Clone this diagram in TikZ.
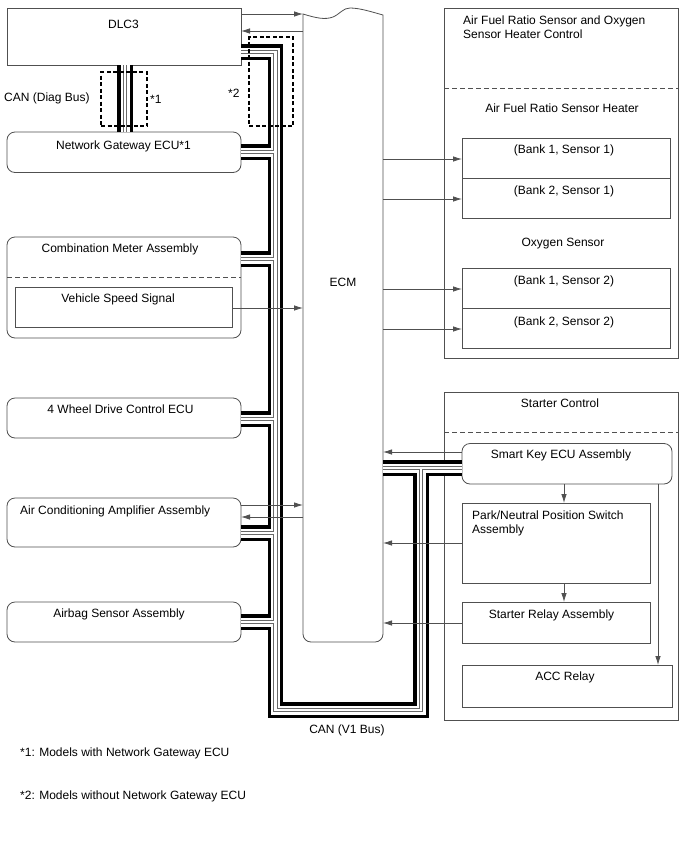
\documentclass[tikz,border=0pt]{standalone}
\usepackage{fontspec}
\setmainfont{Liberation Sans}
\usetikzlibrary{arrows.meta}
\definecolor{ln}{RGB}{80,80,80}
\definecolor{thinln}{RGB}{105,105,105}
\newcommand\bx[6]{\node[#1,anchor=north west,minimum width=#5pt,minimum height=#6pt] (#2) at (#3,#4) {};}
\begin{document}
\begin{tikzpicture}[x=1pt,y=-1pt,
  box/.style={draw=ln,line width=0.8pt,fill=white,inner sep=0pt,outer sep=0pt},
  rbox/.style={box,rounded corners=8pt},
  arr/.style={draw=ln,line width=0.8pt,-{Latex[length=9pt,width=5.5pt]}},
  dline/.style={draw=ln,line width=0.8pt,dash pattern=on 5pt off 3pt},
  ddash/.style={draw=black,line width=1.2pt,dash pattern=on 4pt off 2.5pt,inner sep=0pt,outer sep=0pt},
  txt/.style={inner sep=0pt,font=\fontsize{12}{13.7}\selectfont},
  buspath/.style={insert path={
    (dlc.east |- bA) -- (bA) -- (bB) -- (bC) -- (bD)
    (ecm.east |- bD) -- (sk.west |- bD)
    (ngw.east |- b1) -- (b1)
    (cma.east |- b2) -- (b2)
    (fwd.east |- b3) -- (b3)
    (aca.east |- b4) -- (b4)
    (abs.east |- b5) -- (b5)
    (dlc.south -| dA) -- (ngw.north -| dA)}}
  ]
\useasboundingbox (0,0) rectangle (688,852);
% containers
\bx{box}{afr}{444}{8}{234}{350}
\bx{box}{stc}{444}{392}{234}{328}
% left boxes
\bx{box}{dlc}{7}{8}{234}{57}
\bx{rbox}{ngw}{7}{132}{234}{40.5}
\bx{rbox}{cma}{7}{237}{234}{101}
\bx{box}{vss}{15}{287}{217}{40}
\bx{rbox}{fwd}{7}{398}{234}{40}
\bx{rbox}{aca}{7}{498}{234}{49}
\bx{rbox}{abs}{7}{602}{234}{40}
% ECM
\node[inner sep=0pt,outer sep=0pt,anchor=north west,minimum width=80pt,minimum height=628pt] (ecm) at (303,14) {};
\draw[ln,line width=0.8pt,fill=white] (303,14) .. controls (316,18) and (325,20) .. (333,17)
  .. controls (340,14) and (343,8) .. (350,8) .. controls (360,8) and (372,12) .. (383,15)
  -- (383,100) [rounded corners=8pt] -- (383,642) -- (303,642) -- (303,100) [sharp corners] -- cycle;
% right boxes
\bx{box}{bs11}{462}{138.5}{208}{40}
\bx{box}{bs21}{462}{178.5}{208}{40}
\bx{box}{bs12}{462}{268.5}{208}{40}
\bx{box}{bs22}{462}{308.5}{208}{40}
\bx{rbox}{sk}{462}{443.5}{210}{40.5}
\bx{box}{pn}{462}{503}{188}{80}
\bx{box}{sr}{462}{602}{188}{41}
\bx{box}{acc}{462}{665}{210}{42}
% dashed separators
\coordinate (y277) at (0,277);
\coordinate (y88) at (0,88);
\coordinate (y432) at (0,432);
\draw[dline] (cma.west |- y277) -- (cma.east |- y277);
\draw[dline] (afr.west |- y88) -- (afr.east |- y88);
\draw[dline] (stc.west |- y432) -- (stc.east |- y432);
% bus coordinates
\coordinate (bA) at (275.5,52);
\coordinate (bB) at (275.5,710);
\coordinate (bC) at (421,710);
\coordinate (bD) at (421,468);
\coordinate (b1) at (275.5,152);
\coordinate (b2) at (275.5,259);
\coordinate (b3) at (275.5,419);
\coordinate (b4) at (275.5,533);
\coordinate (b5) at (275.5,622);
\coordinate (dA) at (125,0);
\foreach \w/\bc in {15.5/black,9/white,4.4/thinln,2.4/white}{
  \draw[line width=\w pt,draw=\bc,line cap=butt,line join=miter,buspath];
}
% arrows
\coordinate (a1) at (0,14);
\coordinate (a2) at (0,31);
\coordinate (a3) at (0,308);
\coordinate (a4) at (0,505);
\coordinate (a5) at (0,517);
\coordinate (r1) at (0,159);
\coordinate (r2) at (0,199);
\coordinate (r3) at (0,289);
\coordinate (r4) at (0,329);
\coordinate (r5) at (0,452);
\coordinate (r6) at (0,543);
\coordinate (r7) at (0,623);
\coordinate (c1) at (564,0);
\coordinate (c2) at (658,0);
\draw[arr] (dlc.east |- a1) -- (ecm.west |- a1);
\draw[arr] (ecm.west |- a2) -- (dlc.east |- a2);
\draw[arr] (vss.east |- a3) -- (ecm.west |- a3);
\draw[arr] (aca.east |- a4) -- (ecm.west |- a4);
\draw[arr] (ecm.west |- a5) -- (aca.east |- a5);
\draw[arr] (ecm.east |- r1) -- (bs11.west |- r1);
\draw[arr] (ecm.east |- r2) -- (bs21.west |- r2);
\draw[arr] (ecm.east |- r3) -- (bs12.west |- r3);
\draw[arr] (ecm.east |- r4) -- (bs22.west |- r4);
\draw[arr] (sk.west |- r5) -- (ecm.east |- r5);
\draw[arr] (pn.west |- r6) -- (ecm.east |- r6);
\draw[arr] (sr.west |- r7) -- (ecm.east |- r7);
\draw[arr] (sk.south -| c1) -- (pn.north -| c1);
\draw[arr] (pn.south -| c1) -- (sr.north -| c1);
\draw[arr] (sk.south -| c2) -- (acc.north -| c2);
% dashed option frames
\node[ddash,anchor=north west,minimum width=46pt,minimum height=54pt] (d1) at (101,72) {};
\node[ddash,anchor=north west,minimum width=44pt,minimum height=89pt] (d2) at (249,37) {};
% texts
\node[txt,anchor=base] (tdlc) at (123.5,28.2) {DLC3};
\node[txt,anchor=base] (tngw) at (123.5,149.2) {Network Gateway ECU*1};
\node[txt,anchor=base] (tcma) at (120,252.2) {Combination Meter Assembly};
\node[txt,anchor=base] (tvss) at (118,302.2) {Vehicle Speed Signal};
\node[txt,anchor=base] (tfwd) at (120.5,413.2) {4 Wheel Drive Control ECU};
\node[txt,anchor=base west] (taca) at (20,514.2) {Air Conditioning Amplifier Assembly};
\node[txt,anchor=base] (tabs) at (119,617) {Airbag Sensor Assembly};
\node[txt,anchor=base] (tecm) at (343,286.2) {ECM};
\node[txt,anchor=north west,align=left] (tafr) at (463,15.5) {Air Fuel Ratio Sensor and Oxygen\\Sensor Heater Control};
\node[txt,anchor=base] (tafrh) at (562,112.2) {Air Fuel Ratio Sensor Heater};
\node[txt,anchor=base] (tb11) at (564,153.2) {(Bank 1, Sensor 1)};
\node[txt,anchor=base] (tb21) at (564,194.2) {(Bank 2, Sensor 1)};
\node[txt,anchor=base] (tos) at (563,246.2) {Oxygen Sensor};
\node[txt,anchor=base] (tb12) at (564,284.2) {(Bank 1, Sensor 2)};
\node[txt,anchor=base] (tb22) at (564,325.2) {(Bank 2, Sensor 2)};
\node[txt,anchor=base] (tstc) at (560,407.2) {Starter Control};
\node[txt,anchor=base] (tsk) at (561,458.2) {Smart Key ECU Assembly};
\node[txt,anchor=north west,align=left] (tpn) at (472,510.5) {Park/Neutral Position Switch\\Assembly};
\node[txt,anchor=base] (tsr) at (551.5,618.2) {Starter Relay Assembly};
\node[txt,anchor=base] (tacc) at (565,680.2) {ACC Relay};
\node[txt,anchor=base] (tcanv) at (347,733.2) {CAN (V1 Bus)};
\node[txt,anchor=base west] (tcand) at (4,101.5) {CAN (Diag Bus)};
\node[txt,anchor=base west] (ts1) at (150,103) {*1};
\node[txt,anchor=base west] (ts2) at (228,97) {*2};
\node[txt,anchor=base west] (tfn1) at (20,756.2) {*1: Models with Network Gateway ECU};
\node[txt,anchor=base west] (tfn2) at (20,799.2) {*2: Models without Network Gateway ECU};
\end{tikzpicture}
\end{document}
